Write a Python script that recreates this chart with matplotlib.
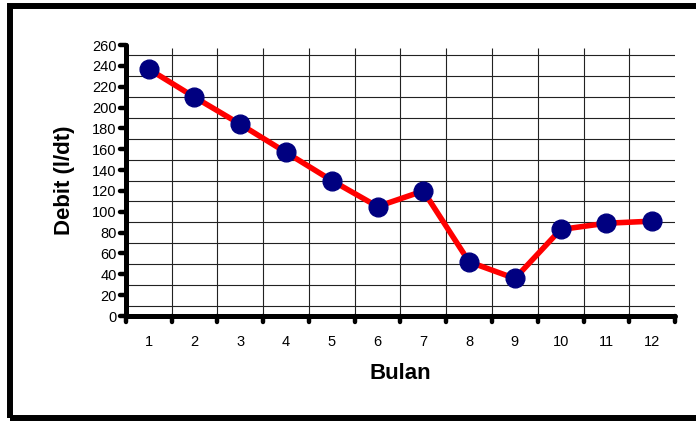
import matplotlib.pyplot as plt
import matplotlib.patches as patches
from matplotlib.markers import MarkerStyle, TICKDOWN, TICKLEFT
import numpy as np

# debit bulanan
bulan = np.arange(1, 13)
debit = [237, 210, 184, 157, 130, 105, 120, 52, 36, 83, 89, 91]
yticks = np.arange(0, 261, 20)
xlabels = [str(b) for b in bulan]

plt.rcParams['font.family'] = ['Liberation Sans', 'DejaVu Sans']

fig = plt.figure(figsize=(6.96, 4.21), dpi=100)
ax = fig.add_axes([0.1807, 0.2494, 0.7893, 0.6437])

# bingkai luar (sisi kanan terpotong)
frame = patches.Rectangle((10 / 696, 3 / 421), 1.05, 412 / 421,
                          transform=fig.transFigure, fill=False,
                          edgecolor='black', linewidth=4.3, clip_on=False)
fig.patches.append(frame)

ax.set_xlim(0.5, 12.5)
ax.set_ylim(0, 260)

# garis grid: horizontal di tengah antar tick, vertikal di batas bulan
batas = np.arange(0.5, 13, 1)
ax.set_yticks(yticks)
ax.set_yticks(yticks[:-1] + 10, minor=True)
ax.grid(True, which='minor', axis='y', color='#222222', linewidth=0.8)
ax.vlines(batas[1:-1], 0, 257, color='#222222', linewidth=0.8, zorder=1)

ax.plot(bulan, debit, color='red', linewidth=4, zorder=3,
        marker='o', markersize=13.5, markerfacecolor='#000080',
        markeredgecolor='#000080', solid_capstyle='round')

# sumbu x: tick di batas, label di tengah
ax.set_xticks(batas)
ax.set_xticklabels([])
ax.set_xticks(bulan, minor=True)
ax.set_xticklabels(xlabels, minor=True)
ax.tick_params(axis='x', which='minor', length=0, pad=14, labelsize=10.5)
ax.tick_params(axis='y', which='minor', length=0)
ax.tick_params(axis='y', which='major', labelsize=10.5, pad=3)

for t in ax.xaxis.get_major_ticks():
    t.tick1line.set_marker(MarkerStyle(TICKDOWN, capstyle='round'))
    t.tick1line.set_markersize(4.5)
    t.tick1line.set_markeredgewidth(3.2)
for t in ax.yaxis.get_major_ticks():
    t.tick1line.set_marker(MarkerStyle(TICKLEFT, capstyle='round'))
    t.tick1line.set_markersize(4.5)
    t.tick1line.set_markeredgewidth(3.2)

for side in ['top', 'right']:
    ax.spines[side].set_visible(False)
for side in ['left', 'bottom']:
    ax.spines[side].set_linewidth(3.6)
    ax.spines[side].set_capstyle('round')
    ax.spines[side].set_zorder(4)

ax.set_xlabel('Bulan', fontsize=16, fontweight='bold', labelpad=10)
ax.set_ylabel('Debit (l/dt)', fontsize=16, fontweight='bold', labelpad=12)

fig.savefig('out.png', dpi=100)
